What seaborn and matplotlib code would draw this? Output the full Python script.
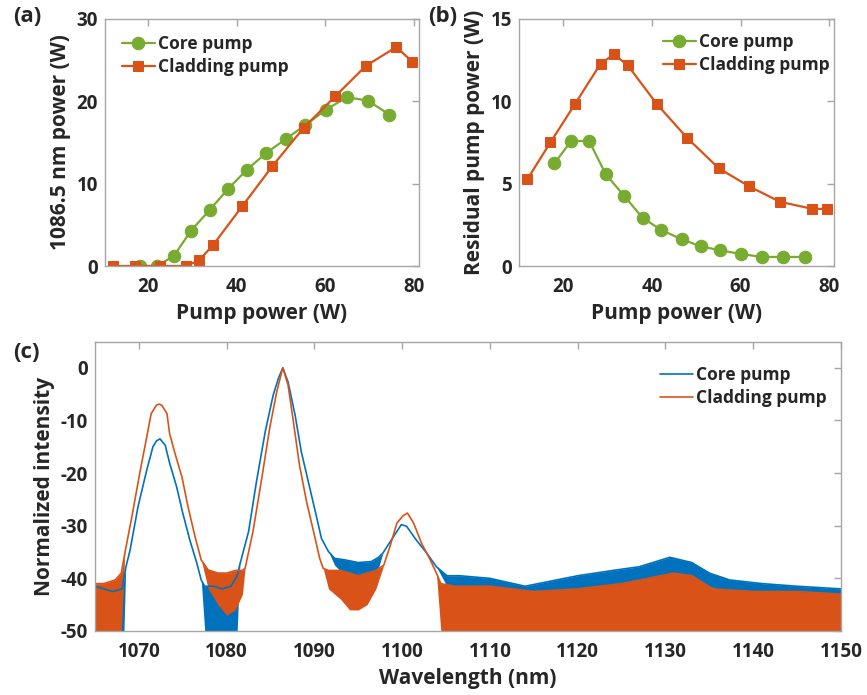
import numpy as np
import pandas as pd
import matplotlib
matplotlib.use("Agg")
import matplotlib.pyplot as plt
import seaborn as sns

# ---- data ----
# (a) 1086.5 nm output power vs pump power
core_pump_a = [18.1, 22.0, 25.8, 29.7, 33.9, 38.1, 42.3, 46.6, 51.0, 55.4, 60.2, 64.8, 69.5, 74.4]
core_out = [0.0, 0.0, 1.2, 4.3, 6.8, 9.4, 11.7, 13.7, 15.4, 17.1, 19.0, 20.5, 20.1, 18.4]
clad_pump_a = [12.2, 17.1, 22.8, 28.6, 31.5, 34.6, 41.3, 48.0, 55.1, 62.2, 69.1, 76.0, 79.6]
clad_out = [0.0, 0.0, 0.0, 0.0, 0.7, 2.5, 7.3, 12.1, 16.8, 20.6, 24.3, 26.6, 24.8]

# (b) residual pump power vs pump power
core_pump_b = [18.0, 21.7, 25.8, 29.6, 33.8, 37.9, 42.1, 46.7, 51.0, 55.4, 60.1, 64.8, 69.5, 74.5]
core_resid = [6.23, 7.57, 7.61, 5.56, 4.24, 2.92, 2.19, 1.62, 1.20, 0.95, 0.73, 0.55, 0.55, 0.55]
clad_pump_b = [11.9, 17.1, 22.6, 28.4, 31.4, 34.5, 41.1, 47.9, 55.1, 62.0, 68.9, 76.2, 79.5]
clad_resid = [5.28, 7.51, 9.82, 12.28, 12.85, 12.20, 9.84, 7.79, 5.93, 4.83, 3.90, 3.47, 3.47]

# (c) spectra: upper / lower edge of the trace (equal where the trace is clean)
core_wl = [1065.0, 1066.0, 1067.0, 1068.1, 1068.3, 1068.5, 1069.0, 1069.9, 1070.9, 1071.6,
           1072.0, 1072.4, 1073.0, 1073.5, 1074.3, 1075.0, 1075.8, 1076.6, 1077.1, 1077.5,
           1078.5, 1079.5, 1080.5, 1081.2, 1081.5, 1082.5, 1083.4, 1084.4, 1085.3, 1085.9,
           1086.4, 1087.0, 1087.8, 1088.5, 1089.3, 1090.1, 1090.8, 1091.6, 1092.3, 1093.5,
           1095.0, 1096.5, 1097.3, 1097.8, 1099.0, 1099.9, 1100.5, 1101.6, 1102.8, 1103.9,
           1105.1, 1106.5, 1110.0, 1114.0, 1117.0, 1120.0, 1124.0, 1127.0, 1130.5, 1133.0,
           1135.0, 1137.3, 1141.0, 1145.0, 1150.0]
core_hi = [-41.5, -42.0, -42.5, -42.0, -40.0, -38.0, -34.6, -26.4, -19.4, -15.0,
           -13.9, -13.5, -14.7, -18.1, -22.6, -27.6, -32.7, -37.1, -40.3, -41.5,
           -41.5, -42.0, -41.5, -39.5, -37.4, -31.1, -21.6, -12.1, -5.2, -2.0,
           0.0, -2.7, -9.0, -15.9, -21.6, -27.3, -32.4, -34.9, -36.2, -36.5,
           -37.0, -36.8, -36.0, -35.2, -32.1, -29.8, -30.1, -32.7, -35.2, -37.8,
           -39.5, -39.5, -40.0, -41.5, -40.5, -39.5, -38.5, -37.8, -36.0, -37.0,
           -39.0, -40.3, -41.0, -41.5, -42.0]
core_lo = [-50.0, -50.0, -50.0, -50.0, -50.0, -38.0, -34.6, -26.4, -19.4, -15.0,
           -13.9, -13.5, -14.7, -18.1, -22.6, -27.6, -32.7, -37.1, -40.3, -50.0,
           -50.0, -50.0, -50.0, -50.0, -37.4, -31.1, -21.6, -12.1, -5.2, -2.0,
           0.0, -2.7, -9.0, -15.9, -21.6, -27.3, -32.4, -34.9, -37.5, -39.5,
           -40.3, -40.0, -38.0, -35.2, -32.1, -29.8, -30.1, -32.7, -35.2, -37.8,
           -41.5, -43.5, -44.0, -44.5, -44.0, -43.0, -42.0, -41.0, -40.0, -40.5,
           -41.5, -43.0, -44.0, -44.0, -44.5]

clad_wl = [1065.0, 1066.0, 1067.3, 1068.0, 1068.4, 1069.2, 1070.1, 1070.9, 1071.4, 1072.0,
           1072.3, 1072.6, 1073.2, 1073.5, 1074.1, 1074.9, 1075.6, 1076.4, 1077.1, 1077.9,
           1079.0, 1080.0, 1081.0, 1081.8, 1082.1, 1083.0, 1084.0, 1084.9, 1085.7, 1086.4,
           1087.0, 1087.6, 1088.3, 1089.1, 1089.9, 1090.6, 1091.0, 1091.6, 1093.0, 1094.0,
           1095.0, 1096.0, 1097.0, 1097.9, 1098.6, 1099.4, 1100.1, 1100.6, 1101.3, 1102.2,
           1103.2, 1103.9, 1104.4, 1106.0, 1110.0, 1115.0, 1120.0, 1125.0, 1128.0, 1130.9,
           1133.0, 1135.4, 1140.0, 1145.0, 1150.0]
clad_hi = [-41.0, -41.0, -40.3, -39.0, -35.2, -28.3, -20.0, -13.1, -8.7, -7.1,
           -6.9, -7.1, -8.7, -12.5, -16.2, -20.7, -26.4, -32.1, -36.5, -38.4,
           -39.0, -39.0, -38.5, -38.5, -38.1, -31.1, -21.0, -11.5, -4.6, 0.0,
           -3.3, -10.2, -18.5, -25.4, -31.1, -36.2, -38.1, -38.5, -38.5, -39.0,
           -39.5, -39.0, -38.5, -37.5, -34.0, -29.5, -28.1, -27.6, -29.5, -33.3,
           -36.5, -39.0, -41.0, -41.5, -41.5, -42.5, -42.0, -41.0, -40.0, -39.0,
           -39.5, -42.0, -42.5, -42.5, -43.0]
clad_lo = [-50.0, -50.0, -50.0, -50.0, -35.2, -28.3, -20.0, -13.1, -8.7, -7.1,
           -6.9, -7.1, -8.7, -12.5, -16.2, -20.7, -26.4, -32.1, -36.5, -42.0,
           -45.0, -47.0, -46.0, -43.0, -38.1, -31.1, -21.0, -11.5, -4.6, 0.0,
           -3.3, -10.2, -18.5, -25.4, -31.1, -36.2, -38.1, -42.0, -44.0, -46.0,
           -46.0, -45.0, -42.0, -37.5, -34.0, -29.5, -28.1, -27.6, -29.5, -33.3,
           -36.5, -39.0, -50.0, -50.0, -50.0, -50.0, -50.0, -50.0, -50.0, -50.0,
           -50.0, -50.0, -50.0, -50.0, -50.0]

GREEN = "#77AC30"
ORANGE = "#D95319"
BLUE = "#0072BD"
TXT = "#262626"
BOX = "#a6a6a6"

sns.set_style("white")
plt.rcParams["font.family"] = ["Open Sans", "DejaVu Sans"]
plt.rcParams["font.weight"] = "bold"
plt.rcParams["axes.labelweight"] = "bold"
plt.rcParams["axes.unicode_minus"] = False
plt.rcParams["text.color"] = TXT
plt.rcParams["axes.labelcolor"] = TXT

fig = plt.figure(figsize=(8.67, 6.95), dpi=100)
ax1 = fig.add_axes([105 / 867, 1 - 266 / 695, 314 / 867, 247 / 695])
ax2 = fig.add_axes([519 / 867, 1 - 266 / 695, 315 / 867, 247 / 695])
ax3 = fig.add_axes([95 / 867, 1 - 631 / 695, 746 / 867, 289 / 695])

LEG = dict(bbox_transform=fig.transFigure, frameon=False, loc="upper left",
           handlelength=1.9, handletextpad=0.2, labelspacing=0.3, borderpad=0,
           borderaxespad=0, prop={"weight": "bold", "size": 12.5})


def style_axis(ax):
    for sp in ax.spines.values():
        sp.set_visible(True)
        sp.set_color(BOX)
        sp.set_linewidth(1.0)
    ax.tick_params(direction="in", top=True, right=True, length=5, width=1,
                   color=BOX, labelsize=13.5, labelcolor=TXT)
    ax.tick_params(axis="x", pad=8)
    ax.tick_params(axis="y", pad=5)
    for lab in ax.get_xticklabels() + ax.get_yticklabels():
        lab.set_fontweight("bold")


# (a)
sns.lineplot(x=core_pump_a, y=core_out, ax=ax1, color=GREEN, marker="o", markersize=9,
             markeredgecolor=GREEN, linewidth=1.6, label="Core pump")
sns.lineplot(x=clad_pump_a, y=clad_out, ax=ax1, color=ORANGE, marker="s", markersize=7,
             markeredgecolor=ORANGE, linewidth=1.6, label="Cladding pump")
ax1.set_xlim(10.3, 81.1)
ax1.set_ylim(0, 30)
ax1.set_xticks([20, 40, 60, 80])
ax1.set_yticks([0, 10, 20, 30])
ax1.set_xlabel("Pump power (W)", fontsize=15, labelpad=4)
ax1.set_ylabel("1086.5 nm power (W)", fontsize=15, labelpad=4)
ax1.legend(bbox_to_anchor=(122 / 867, 1 - 35 / 695), **LEG)
style_axis(ax1)

# (b)
sns.lineplot(x=core_pump_b, y=core_resid, ax=ax2, color=GREEN, marker="o", markersize=9,
             markeredgecolor=GREEN, linewidth=1.6, label="Core pump")
sns.lineplot(x=clad_pump_b, y=clad_resid, ax=ax2, color=ORANGE, marker="s", markersize=7,
             markeredgecolor=ORANGE, linewidth=1.6, label="Cladding pump")
ax2.set_xlim(10.0, 81.1)
ax2.set_ylim(0, 15)
ax2.set_xticks([20, 40, 60, 80])
ax2.set_yticks([0, 5, 10, 15])
ax2.set_xlabel("Pump power (W)", fontsize=15, labelpad=4)
ax2.set_ylabel("Residual pump power (W)", fontsize=15, labelpad=4)
ax2.legend(bbox_to_anchor=(663 / 867, 1 - 33 / 695), **LEG)
style_axis(ax2)

# (c)
ax3.fill_between(core_wl, core_lo, core_hi, color=BLUE, linewidth=0)
sns.lineplot(x=core_wl, y=core_hi, ax=ax3, color=BLUE, linewidth=1.2, label="Core pump")
ax3.fill_between(clad_wl, clad_lo, clad_hi, color=ORANGE, linewidth=0)
sns.lineplot(x=clad_wl, y=clad_hi, ax=ax3, color=ORANGE, linewidth=1.2, label="Cladding pump")
ax3.set_xlim(1065, 1150)
ax3.set_ylim(-50, 4.9)
ax3.set_xticks(np.arange(1070, 1151, 10))
ax3.set_yticks(np.arange(-50, 1, 10))
ax3.set_xlabel("Wavelength (nm)", fontsize=15, labelpad=4)
ax3.set_ylabel("Normalized intensity", fontsize=15, labelpad=4)
ax3.legend(bbox_to_anchor=(660 / 867, 1 - 366 / 695), **LEG)
style_axis(ax3)

# panel letters
fig.text(13 / 867, 1 - 16 / 695, "(a)", fontsize=16, fontweight="bold", va="center", ha="left")
fig.text(428 / 867, 1 - 16 / 695, "(b)", fontsize=16, fontweight="bold", va="center", ha="left")
fig.text(13 / 867, 1 - 352 / 695, "(c)", fontsize=16, fontweight="bold", va="center", ha="left")

fig.savefig("out.png", dpi=100)
